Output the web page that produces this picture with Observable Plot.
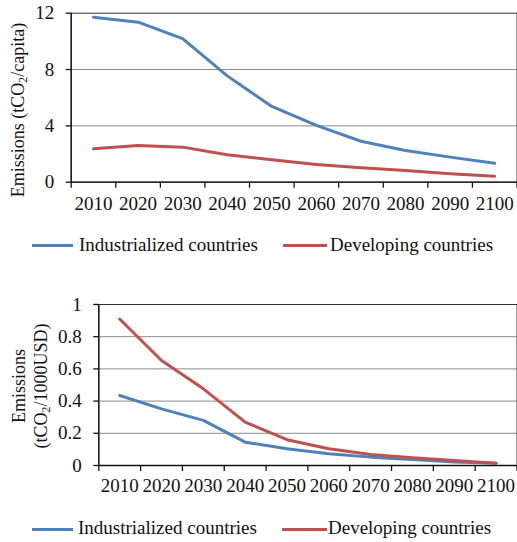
<!DOCTYPE html>
<html>
<head>
<meta charset="utf-8">
<script src="https://cdn.jsdelivr.net/npm/d3@7"></script>
<script src="https://cdn.jsdelivr.net/npm/@observablehq/plot@0.6"></script>
<style>
  html, body { margin: 0; padding: 0; background: #fff; }
  #wrap { position: relative; width: 517px; height: 542px; background: #fff; color: #111; overflow: hidden; }
  .abs { position: absolute; }
  .ytitle { position: absolute; white-space: nowrap; text-align: center; font-size: 18px; line-height: 22px; transform: translate(-50%, -50%) rotate(-90deg); }
  .ytitle sub { font-size: 0.65em; vertical-align: -0.25em; line-height: 0; }
  .leg { position: absolute; font-size: 19px; white-space: nowrap; line-height: 20px; }
  .legline { position: absolute; height: 3px; }
  svg text { font-family: 'Liberation Serif'; }
</style>
</head>
<body>
<div id="wrap" style="font-family:'Liberation Serif'">
  <div id="c1" class="abs" style="left:0;top:0"></div>
  <div id="c2" class="abs" style="left:0;top:280px"></div>
  <div class="ytitle" style="left:18px;top:110px;font-family:'Liberation Serif'">Emissions (tCO<sub>2</sub>/capita)</div>
  <div class="ytitle" style="left:30px;top:386px;font-family:'Liberation Serif'">Emissions<br>(tCO<sub>2</sub>/1000USD)</div>
  <div id="leg1"></div>
  <div id="leg2"></div>
</div>
<script>
const years = [2010, 2020, 2030, 2040, 2050, 2060, 2070, 2080, 2090, 2100];
const bandEdges = [2005, 2015, 2025, 2035, 2045, 2055, 2065, 2075, 2085, 2095, 2105];
const seriesNames = ["Industrialized countries", "Developing countries"];
const seriesColors = ["#4F81BD", "#C0504D"];

// Emissions per capita (tCO2/capita)
const industrializedPerCapita = [11.72, 11.36, 10.2, 7.55, 5.38, 4.03, 2.91, 2.25, 1.78, 1.35];
const developingPerCapita = [2.37, 2.6, 2.49, 1.95, 1.59, 1.26, 1.02, 0.83, 0.6, 0.43];

// Emissions intensity (tCO2/1000USD)
const industrializedIntensity = [0.435, 0.352, 0.28, 0.145, 0.104, 0.073, 0.052, 0.037, 0.021, 0.014];
const developingIntensity = [0.91, 0.652, 0.476, 0.269, 0.16, 0.104, 0.068, 0.048, 0.031, 0.014];

const yTicks1 = [0, 4, 8, 12];
const yTicks2 = [0, 0.2, 0.4, 0.6, 0.8, 1];

function toRows(a, b) {
  const rows = [];
  years.forEach((y, i) => rows.push({year: y, value: a[i], series: seriesNames[0]}));
  years.forEach((y, i) => rows.push({year: y, value: b[i], series: seriesNames[1]}));
  return rows;
}

function makeChart(rows, yDomain, yTicks, opts) {
  const grid = yTicks.slice(1, -1);
  return Plot.plot({
    width: 517,
    height: opts.height,
    marginTop: opts.marginTop,
    marginBottom: opts.marginBottom,
    marginLeft: opts.marginLeft,
    marginRight: 0.5,
    style: {fontFamily: "Liberation Serif", fontSize: "19px", color: "#111", background: "transparent", overflow: "visible"},
    x: {domain: [2005, 2105]},
    y: {domain: yDomain},
    color: {domain: seriesNames, range: seriesColors},
    marks: [
      Plot.ruleY(grid, {stroke: "#8a8a8a", strokeWidth: 1}),
      Plot.frame({stroke: "#333", strokeWidth: 1}),
      Plot.axisX(bandEdges, {tickSize: 6, tickFormat: () => "", label: null, stroke: "#111", strokeWidth: 1.3}),
      Plot.axisX(years, {tickSize: 0, tickPadding: opts.xPad, tickFormat: d => `${d}`, label: null, fill: "#111", fontFamily: "Liberation Serif"}),
      Plot.axisY(yTicks, {tickSize: 5, tickPadding: 12, tickFormat: d => `${d}`, label: null, stroke: "#111", fill: "#111", strokeWidth: 1.3, fontFamily: "Liberation Serif"}),
      Plot.ruleY([yDomain[0]], {stroke: "#111", strokeWidth: 1.3}),
      Plot.ruleX([2005], {stroke: "#111", strokeWidth: 1.3}),
      Plot.line(rows, {x: "year", y: "value", z: "series", stroke: "series", strokeWidth: 3, strokeLinejoin: "round"})
    ]
  });
}

document.getElementById("c1").append(makeChart(
  toRows(industrializedPerCapita, developingPerCapita), [0, 12], yTicks1,
  {height: 220, marginTop: 12.7, marginBottom: 38.3, marginLeft: 70.7, xPad: 14}
));
document.getElementById("c2").append(makeChart(
  toRows(industrializedIntensity, developingIntensity), [0, 1], yTicks2,
  {height: 220, marginTop: 24, marginBottom: 35, marginLeft: 98.3, xPad: 13}
));

function legend(id, lineY, items) {
  const el = document.getElementById(id);
  items.forEach(it => {
    const l = document.createElement("div");
    l.className = "legline";
    l.style.left = it.x1 + "px";
    l.style.width = (it.x2 - it.x1) + "px";
    l.style.top = (lineY - 1.5) + "px";
    l.style.background = it.color;
    el.append(l);
    const t = document.createElement("div");
    t.className = "leg";
    t.style.left = it.tx + "px";
    t.style.top = (lineY - 11) + "px";
    t.style.fontFamily = "'Liberation Serif'";
    t.textContent = it.name;
    el.append(t);
  });
}
legend("leg1", 245.5, [
  {name: seriesNames[0], color: seriesColors[0], x1: 32, x2: 73, tx: 79},
  {name: seriesNames[1], color: seriesColors[1], x1: 283, x2: 327, tx: 330}
]);
legend("leg2", 529, [
  {name: seriesNames[0], color: seriesColors[0], x1: 32, x2: 73, tx: 78},
  {name: seriesNames[1], color: seriesColors[1], x1: 282, x2: 327, tx: 328}
]);
</script>
</body>
</html>
